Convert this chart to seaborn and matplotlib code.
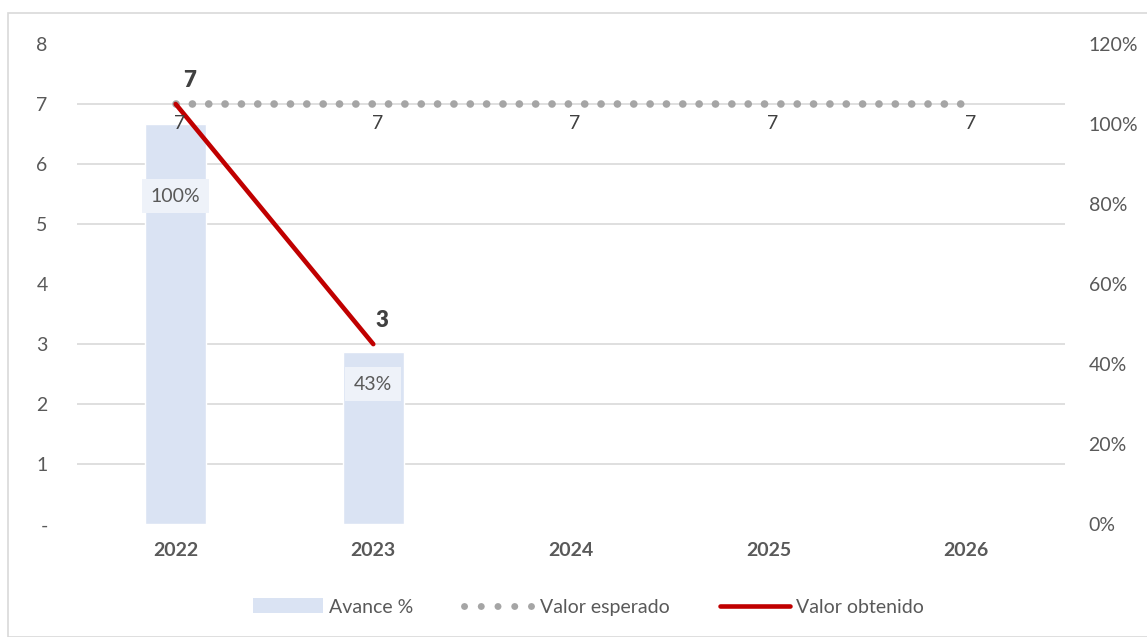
import numpy as np
import pandas as pd
import matplotlib
matplotlib.use("Agg")
import matplotlib.pyplot as plt
import seaborn as sns
from matplotlib.lines import Line2D
from matplotlib.patches import Patch, Rectangle

anios = ["2022", "2023", "2024", "2025", "2026"]
avance = [1.00, 0.43, np.nan, np.nan, np.nan]
valor_esperado = [7, 7, 7, 7, 7]
valor_obtenido = [7, 3, np.nan, np.nan, np.nan]
etiquetas_avance = ["100%", "43%"]
pos_etiqueta_avance = [0.82, 0.35]

df = pd.DataFrame({"anio": anios, "avance": avance,
                   "esperado": valor_esperado, "obtenido": valor_obtenido})

sns.set_theme(style="white")
plt.rcParams["font.family"] = ["Lato", "DejaVu Sans"]

gris_txt = "#595959"
color_barra = "#dae3f3"
color_esperado = "#a5a5a5"
color_obtenido = "#c00000"
fs = 14

fig = plt.figure(figsize=(11.47, 6.37), dpi=100)
ax = fig.add_axes([0.067, 0.177, 0.8615, 0.754])
ax2 = ax.twinx()

# barras (eje derecho, %)
sns.barplot(data=df, x="anio", y="avance", order=anios, color=color_barra,
            saturation=1, width=0.31, ax=ax, zorder=2)
ax.set_ylim(0, 1.2)
ax.set_xlim(-0.5, 4.5)
ax.yaxis.tick_right()
ax.set_yticks(np.arange(0, 1.21, 0.2))
ax.set_yticklabels([f"{int(round(v*100))}%" for v in np.arange(0, 1.21, 0.2)])
ax.set_yticks(np.arange(0, 1.21, 0.15), minor=True)
ax.grid(which="minor", axis="y", color="#d9d9d9", linewidth=1.2, zorder=0)
ax.grid(which="major", visible=False)
ax.tick_params(axis="y", which="both", length=0, pad=17, labelsize=fs, colors=gris_txt)
ax.tick_params(axis="x", length=0, pad=13, labelsize=fs, colors=gris_txt)
for t in ax.get_xticklabels():
    t.set_fontweight("bold")
ax.set_xlabel("")
ax.set_ylabel("")
ax.set_axisbelow(True)
for i, (txt, y) in enumerate(zip(etiquetas_avance, pos_etiqueta_avance)):
    ax.text(i, y, txt, ha="center", va="center", fontsize=fs, color=gris_txt, zorder=3,
            bbox=dict(boxstyle="square,pad=0.45", fc="#eef2f9", ec="none"))

# lineas (eje izquierdo)
sns.lineplot(data=df, x="anio", y="esperado", ax=ax2, color=color_esperado,
             linewidth=5.5, linestyle=(0, (0.01, 2.13)), dash_capstyle="round")
sns.lineplot(data=df, x="anio", y="obtenido", ax=ax2, color=color_obtenido,
             linewidth=3.3, solid_capstyle="round")
ax2.set_ylim(0, 8)
ax2.set_xlim(-0.5, 4.5)
ax2.yaxis.tick_left()
ax2.set_yticks(range(0, 9))
ax2.set_yticklabels(["-"] + [str(v) for v in range(1, 9)])
ax2.tick_params(axis="y", length=0, pad=21, labelsize=fs, colors=gris_txt)
ax2.set_ylabel("")
ax2.set_xlabel("")

for i, v in enumerate(valor_esperado):
    ax2.annotate(str(v), (i, v), xytext=(3, -14), textcoords="offset points",
                 ha="center", va="center", fontsize=fs, color="#404040")
for i, v in enumerate(valor_obtenido):
    if not np.isnan(v):
        ax2.annotate(str(int(v)), (i, v), xytext=(10 if i == 0 else 6, 17), textcoords="offset points",
                     ha="center", va="center", fontsize=16, fontweight="heavy", color="#404040")

for a in (ax, ax2):
    for s in a.spines.values():
        s.set_visible(False)

handles = [
    Patch(facecolor=color_barra, edgecolor="none"),
    Line2D([0], [0], color=color_esperado, linewidth=5, linestyle=(0, (0.01, 2.4)),
           dash_capstyle="round"),
    Line2D([0], [0], color=color_obtenido, linewidth=3.3, solid_capstyle="round"),
]
fig.legend(handles, ["Avance %", "Valor esperado", "Valor obtenido"], loc="center",
           bbox_to_anchor=(0.513, 0.047), ncol=3, frameon=False, fontsize=fs,
           labelcolor=gris_txt, handlelength=3.6, handleheight=0.8, handletextpad=0.3,
           columnspacing=2.6)

fig.patches.append(Rectangle((8 / 1147, 0), 1.0, 1 - 13 / 637, transform=fig.transFigure,
                             fill=False, edgecolor="#d9d9d9", linewidth=1.2))

fig.savefig("out.png", dpi=100)
